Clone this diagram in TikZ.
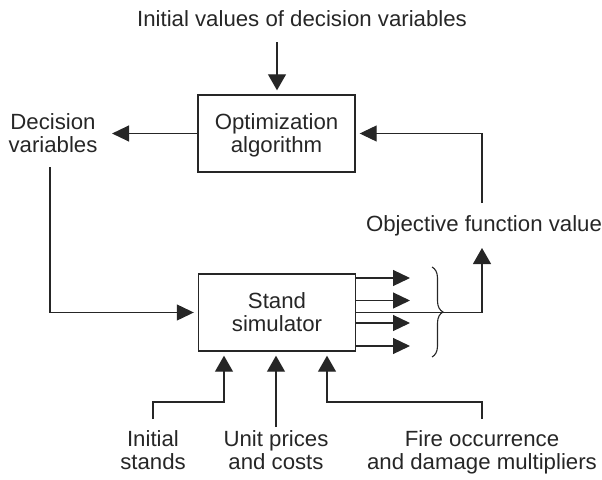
\documentclass[tikz,border=0pt]{standalone}
\usepackage{fontspec}
\setmainfont[FakeStretch=1.01]{Liberation Sans}
\usetikzlibrary{arrows.meta,decorations.pathreplacing}
\begin{document}
\begin{tikzpicture}[x=1pt,y=-1pt, line width=1.2pt, draw=black!85,
  txt/.style={font=\fontsize{22}{23}\selectfont, align=center, inner sep=0pt, text=black!85},
  box/.style={draw, line width=1.4pt, minimum width=157pt, minimum height=77pt, inner sep=0pt},
  harr/.style={-{Triangle[length=17pt,width=16pt]}},
  varr/.style={-{Triangle[length=16pt,width=18pt]}}]
\useasboundingbox (0,0) rectangle (602,479);
% boxes
\node[box] (opt) at (276.5,133.5) {};
\node[box] (sim) at (277,312.5) {};
% texts
\node[txt] (init) at (302,19) {Initial values of decision variables};
\node[txt] (optt) at (276.5,135.2) {Optimization\\algorithm};
\node[txt] (simt) at (277,312.3) {Stand\\simulator};
\node[txt] (dec) at (53,133.5) {Decision\\variables};
\node[txt] (obj) at (484,226.2) {Objective function value};
\node[txt] (ist) at (153,450.5) {Initial\\stands};
\node[txt] (unit) at (276,450.5) {Unit prices\\and costs};
\node[txt] (fire) at (482,452.8) {Fire occurrence\\and damage multipliers};
% helper coordinates
\coordinate (t1) at (277,42);
\coordinate (dv) at (50,167);
\coordinate (objin) at (482,248);
\coordinate (objout) at (482,203);
\coordinate (a1) at (153,419);
\coordinate (a1k) at (224,402);
\coordinate (a2) at (276,427);
\coordinate (a3) at (482,419);
\coordinate (a3k) at (327,402);
\coordinate (o1) at (410,278);
\coordinate (o2) at (410,300.5);
\coordinate (o3) at (410,323);
\coordinate (o4) at (410,346);
\coordinate (br1) at (432,267);
\coordinate (br2) at (432,357);
% connectors
\draw[varr, shorten >=4pt] (t1) -- (t1 |- opt.north);
\draw[harr] (opt.west) -- ([xshift=14pt]dec.east);
\draw[harr, shorten >=4pt] (dv) |- (sim.west);
\draw[varr] (sim.east) -| (objin);
\draw[harr, shorten >=4pt] (objout) |- (opt.east);
\foreach \o in {o1,o2,o3,o4} \draw[harr] (\o -| sim.east) -- (\o);
\draw[line width=1.1pt, decorate, decoration={brace, amplitude=11pt}] (br1) -- (br2);
\draw[varr, shorten >=4pt] (a1) |- (a1k) -- (a1k |- sim.south);
\draw[varr, shorten >=4pt] (a2) -- (a2 |- sim.south);
\draw[varr, shorten >=4pt] (a3) |- (a3k) -- (a3k |- sim.south);
\end{tikzpicture}
\end{document}
